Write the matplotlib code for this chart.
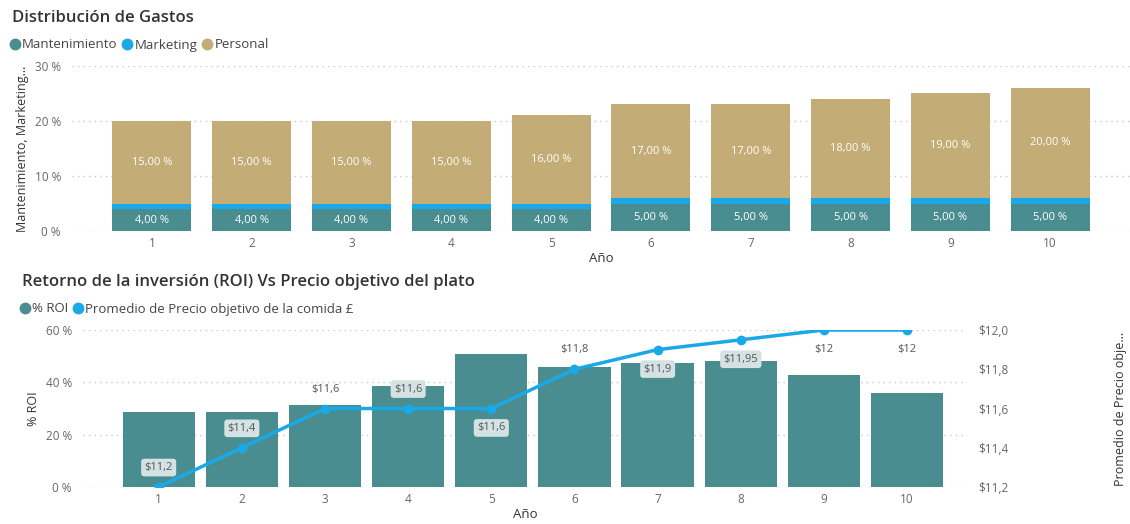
import matplotlib.pyplot as plt
from matplotlib.lines import Line2D

plt.rcParams["font.family"] = ["Open Sans", "DejaVu Sans"]

# gastos por año (%)
years = [1, 2, 3, 4, 5, 6, 7, 8, 9, 10]
mantenimiento = [4, 4, 4, 4, 4, 5, 5, 5, 5, 5]
marketing = [1, 1, 1, 1, 1, 1, 1, 1, 1, 1]
personal = [15, 15, 15, 15, 16, 17, 17, 18, 19, 20]

# ROI (%) y precio objetivo medio
roi = [28.7, 28.5, 31.3, 38.6, 50.8, 46.0, 47.4, 48.3, 42.7, 35.8]
precio = [11.2, 11.4, 11.6, 11.6, 11.6, 11.8, 11.9, 11.95, 12.0, 12.0]
label_side = ["up", "up", "up", "up", "down", "up", "down", "down", "down", "down"]

TEAL = "#4A8D90"
BLUE = "#1AA9E8"
TAN = "#C3AC75"
GRID = "#C8C8C8"
TICK = "#666666"
DARK = "#333333"

W, H = 1130, 524
fig = plt.figure(figsize=(W / 100, H / 100), dpi=100)


def px_axes(x0, x1, ytop, ybot):
    return fig.add_axes([x0 / W, (H - ybot) / H, (x1 - x0) / W, (ybot - ytop) / H])


def pct(v, _=None):
    return f"{v:.0f} %"


def clean(ax):
    for s in ax.spines.values():
        s.set_visible(False)
    ax.tick_params(length=0, colors=TICK, labelsize=8.5)
    ax.grid(axis="y", color=GRID, linestyle=(0, (1, 3)), linewidth=1)
    ax.set_axisbelow(True)


def legend(labels, colors, x, y):
    handles = [Line2D([], [], marker="o", linestyle="", color=c, markersize=7.5)
               for c in colors]
    fig.legend(handles, labels, loc="center left", bbox_to_anchor=(x / W, 1 - y / H),
               ncol=len(labels), frameon=False, fontsize=9.5, handlelength=0.7,
               handletextpad=0.2, columnspacing=0.4, labelcolor="#444444",
               borderaxespad=0, borderpad=0)


# --- Distribución de Gastos ---
ax1 = px_axes(72, 1130, 66, 231)
clean(ax1)
bw = 0.79
ax1.bar(years, mantenimiento, bw, color=TEAL)
ax1.bar(years, marketing, bw, bottom=mantenimiento, color=BLUE)
base = [m + k for m, k in zip(mantenimiento, marketing)]
ax1.bar(years, personal, bw, bottom=base, color=TAN)
for x, m, b, p in zip(years, mantenimiento, base, personal):
    ax1.text(x, m / 2, f"{m:.2f} %".replace(".", ","), ha="center", va="center",
             color="white", fontsize=8)
    ax1.text(x, b + p / 2, f"{p:.2f} %".replace(".", ","), ha="center", va="center",
             color="white", fontsize=8)
ax1.set_xlim(0.2, 10.8)
ax1.set_ylim(0, 30)
ax1.set_yticks([0, 10, 20, 30])
ax1.yaxis.set_major_formatter(pct)
ax1.set_xticks(years)
ax1.tick_params(axis="x", pad=4)
ax1.tick_params(axis="y", pad=8)
ax1.set_xlabel("Año", color=DARK, fontsize=9.5, labelpad=2)
ax1.set_ylabel("Mantenimiento, Marketing...", color=DARK, fontsize=9, labelpad=4)

fig.text(12 / W, 1 - 18 / H, "Distribución de Gastos", fontsize=12, color=DARK,
         va="center", ha="left", fontweight="semibold")
legend(["Mantenimiento", "Marketing", "Personal"], [TEAL, BLUE, TAN], 10, 45)

# --- ROI vs Precio objetivo ---
ax2 = px_axes(83, 967, 330, 487)
clean(ax2)
ax2.bar(years, roi, 0.87, color=TEAL)
ax2.set_xlim(0.09, 10.72)
ax2.set_ylim(0, 60)
ax2.set_yticks([0, 20, 40, 60])
ax2.yaxis.set_major_formatter(pct)
ax2.set_xticks(years)
ax2.tick_params(axis="x", pad=4)
ax2.tick_params(axis="y", pad=8)
ax2.set_xlabel("Año", color=DARK, fontsize=9.5, labelpad=2)
ax2.set_ylabel("% ROI", color=DARK, fontsize=9, labelpad=4)

ax3 = ax2.twinx()
for s in ax3.spines.values():
    s.set_visible(False)
ax3.tick_params(length=0, colors=TICK, labelsize=8.5, pad=8)
ax3.set_ylim(11.2, 12.0)
ax3.set_yticks([11.2, 11.4, 11.6, 11.8, 12.0])
ax3.yaxis.set_major_formatter(lambda v, _: f"${v:.1f}".replace(".", ","))
ax3.set_ylabel("Promedio de Precio obje...", color=DARK, fontsize=9)
ax3.yaxis.set_label_coords((1114 - 83) / 884, 0.5)
ax3.plot(years, precio, color=BLUE, linewidth=2.5, marker="o", markersize=6,
         solid_capstyle="round")

for x, p, r, side in zip(years, precio, roi, label_side):
    dy = 14 if side == "up" else -14
    txt = f"${p:g}".replace(".", ",")
    # posición de la etiqueta en unidades del eje de ROI
    y_roi = (p - 11.2) / 0.8 * 60 + dy / 2.617 / 0.75
    box = None
    if y_roi < r + 2:
        box = dict(boxstyle="round,pad=0.3,rounding_size=0.3", fc="#D5E2E4",
                   ec="none")
    ax3.annotate(txt, (x, p), xytext=(0, dy), textcoords="offset points",
                 ha="center", va="center", fontsize=8, color="#555555", bbox=box)

fig.text(22 / W, 1 - 282 / H, "Retorno de la inversión (ROI) Vs Precio objetivo del plato",
         fontsize=12, color=DARK, va="center", ha="left", fontweight="semibold")
legend(["% ROI", "Promedio de Precio objetivo de la comida £"], [TEAL, BLUE], 20, 309)

fig.savefig("out.png", dpi=100, facecolor="white")
